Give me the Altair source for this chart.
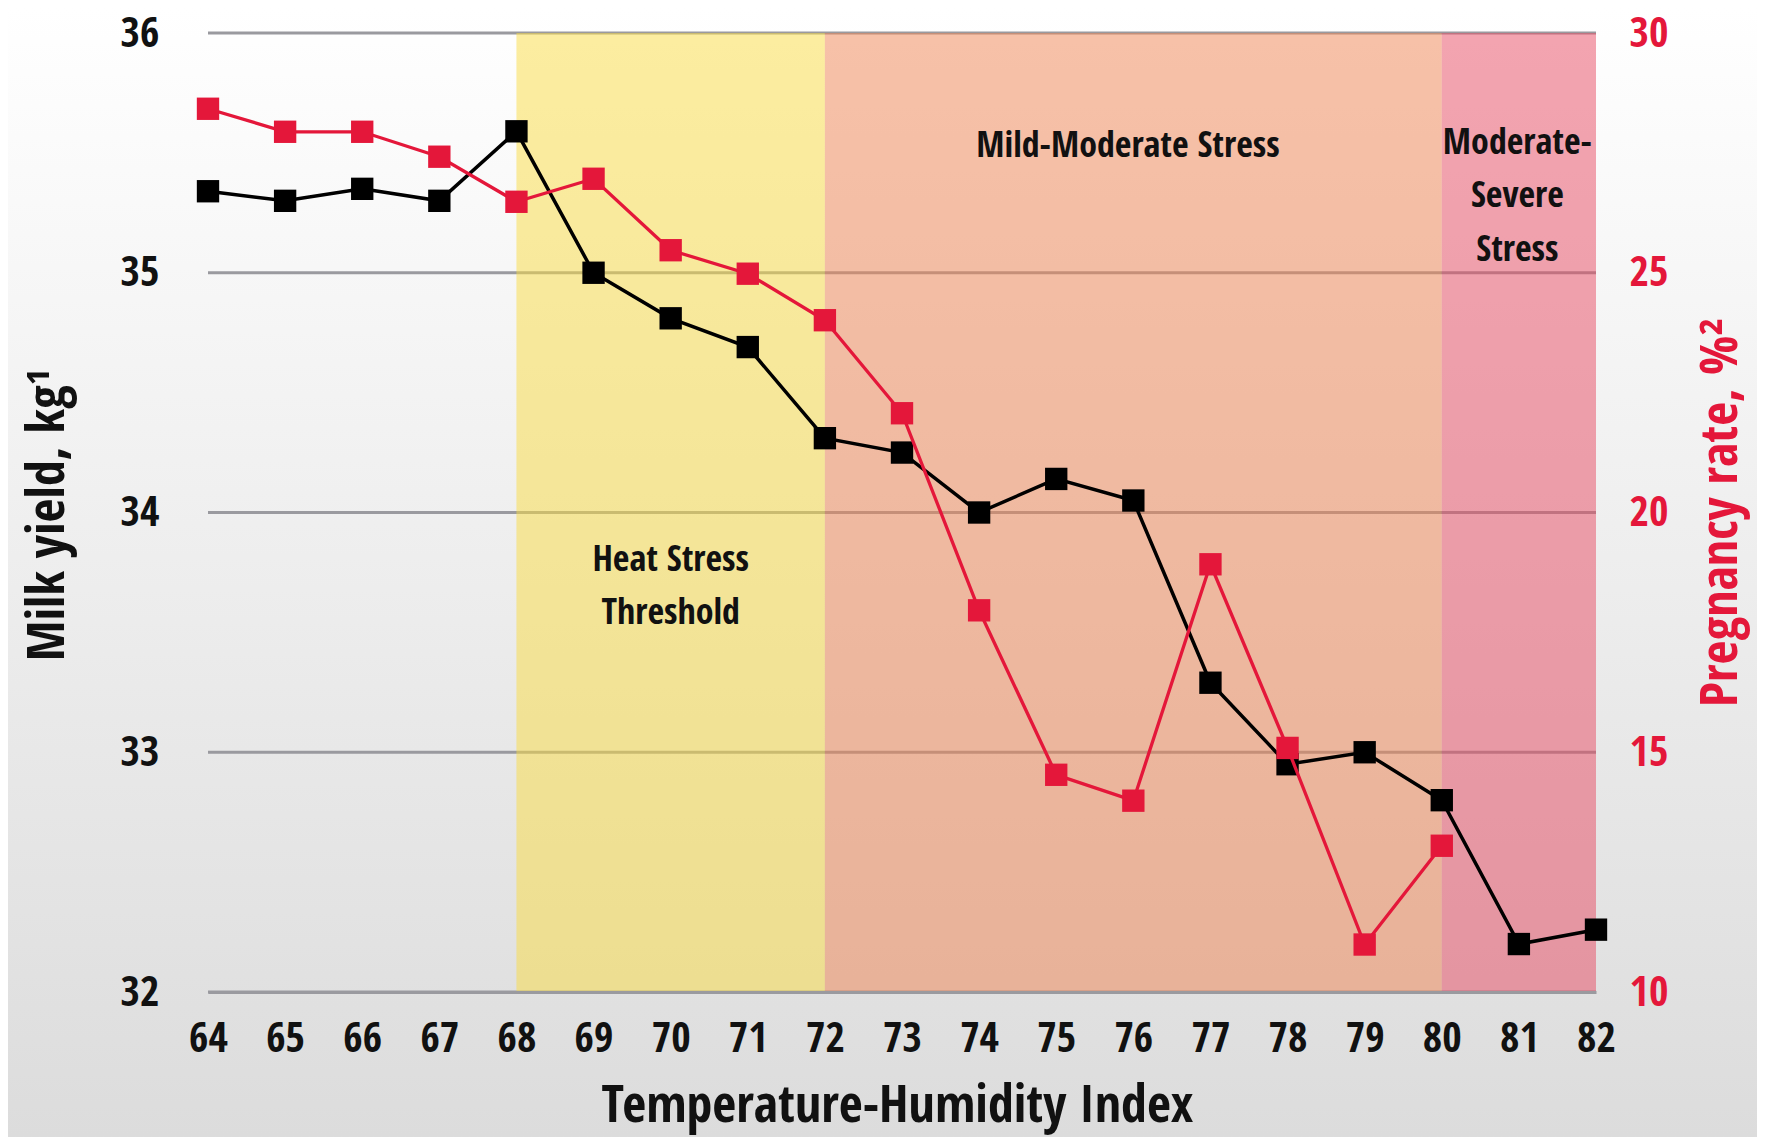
import altair as alt
import pandas as pd

# ---- data ----
thi = [64, 65, 66, 67, 68, 69, 70, 71, 72, 73, 74, 75, 76, 77, 78, 79, 80, 81, 82]
milk_yield = [35.34, 35.30, 35.35, 35.30, 35.59, 35.00, 34.81, 34.69, 34.31, 34.25,
              34.00, 34.14, 34.05, 33.29, 32.95, 33.00, 32.80, 32.20, 32.26]
thi_preg = [64, 65, 66, 67, 68, 69, 70, 71, 72, 73, 74, 75, 76, 77, 78, 79, 80]
pregnancy_rate = [28.42, 27.94, 27.94, 27.42, 26.48, 26.96, 25.47, 24.98, 24.01, 22.07,
                  17.96, 14.53, 13.99, 18.92, 15.09, 10.99, 13.05]

zone_names = ["Heat Stress Threshold", "Mild-Moderate Stress", "Moderate-Severe Stress"]
zone_start = [68, 72, 80]
zone_end = [72, 80, 82]
zone_colors = ["#F9DB41", "#EF8351", "#E84A62"]

note_text = ["Heat Stress", "Threshold", "Mild-Moderate Stress", "Moderate-", "Severe", "Stress"]
note_x = [70, 70, 75.93, 80.98, 80.98, 80.98]
note_y = [33.80, 33.58, 35.53, 35.54, 35.32, 35.095]

milk_ticks = [32, 33, 34, 35, 36]
preg_ticks = [10, 15, 20, 25, 30]
x_ticks = thi

# ---- style ----
FONT = "Open Sans Condensed, Roboto Condensed, DejaVu Sans Condensed, sans-serif"
RED = "#E4173A"
GRID = "#9a9a9f"
W, H = 1388, 959
PL, PT, PR, PB = 200, 25, 161, 145

df_milk = pd.DataFrame({"thi": thi, "milk": milk_yield})
df_preg = pd.DataFrame({"thi": thi_preg, "preg": pregnancy_rate})
df_zone = pd.DataFrame({"zone": zone_names, "start": zone_start, "end": zone_end})
df_note = pd.DataFrame({"t": note_text, "x": note_x, "y": note_y})
df_grid = pd.DataFrame({"v": milk_ticks})
df_one = pd.DataFrame({"a": [0]})

xscale = alt.Scale(domain=[64, 82], nice=False, zero=False)
yscale = alt.Scale(domain=[32, 36], nice=False, zero=False)
pscale = alt.Scale(domain=[10, 30], nice=False, zero=False)

x_axis = alt.Axis(
    values=x_ticks, format="d", ticks=False, tickSize=0, grid=False,
    domain=True, domainColor=GRID, domainWidth=3,
    labelFont=FONT, labelFontSize=42, labelFontWeight="bold", labelColor="#111111",
    labelPadding=26, labelOverlap=False, labelFlush=False,
    title="Temperature-Humidity Index", titleFont=FONT, titleFontSize=52,
    titleFontWeight="bold", titleColor="#111111", titleX=689, titleY=129,
    titleBaseline="alphabetic", titleAlign="center", zindex=2,
)

left_axis = alt.Axis(
    orient="left", values=milk_ticks, format="d", ticks=False, tickSize=0, grid=False,
    domain=False, labelFont=FONT, labelFontSize=42, labelFontWeight="bold",
    labelColor="#111111", labelPadding=49, labelFlush=False,
    title="Milk yield, kg\u00b9", titleFont=FONT, titleFontSize=52,
    titleFontWeight="bold", titleColor="#111111", titleAngle=270,
    titleX=-145, titleY=481, titleBaseline="alphabetic", titleAlign="center", zindex=2,
)

right_axis = alt.Axis(
    orient="right", values=preg_ticks, format="d", ticks=False, tickSize=0, grid=False,
    domain=False, labelFont=FONT, labelFontSize=42, labelFontWeight="bold",
    labelColor=RED, labelPadding=33, labelFlush=False,
    title="Pregnancy rate, %\u00b2", titleFont=FONT, titleFontSize=52,
    titleFontWeight="bold", titleColor=RED, titleAngle=270,
    titleX=140, titleY=479, titleBaseline="alphabetic", titleAlign="center", zindex=2,
)

bg = alt.Chart(df_one).mark_rect(
    fill=alt.LinearGradient(
        gradient="linear",
        stops=[alt.GradientStop(color="#ffffff", offset=0),
               alt.GradientStop(color="#dcdcdc", offset=1)],
        x1=0, x2=0, y1=0, y2=1,
    )
).encode(
    x=alt.value(-PL), x2=alt.value(W + PR), y=alt.value(-PT), y2=alt.value(H + PB)
)

grid = alt.Chart(df_grid).mark_rule(color=GRID, strokeWidth=3).encode(
    y=alt.Y("v:Q", scale=yscale, axis=left_axis)
)

bands = alt.Chart(df_zone).mark_rect(opacity=0.5).encode(
    x=alt.X("start:Q", scale=xscale, axis=x_axis),
    x2="end:Q",
    y=alt.value(0),
    y2=alt.value(H),
    color=alt.Color("zone:N", scale=alt.Scale(domain=zone_names, range=zone_colors), legend=None),
)

notes = alt.Chart(df_note).mark_text(
    font=FONT, fontSize=36, fontWeight="bold", color="#111111", baseline="middle", align="center"
).encode(
    x=alt.X("x:Q", scale=xscale, axis=x_axis),
    y=alt.Y("y:Q", scale=yscale, axis=left_axis),
    text="t:N",
)

milk_line = alt.Chart(df_milk).mark_line(color="#000000", strokeWidth=3.5).encode(
    x=alt.X("thi:Q", scale=xscale, axis=x_axis),
    y=alt.Y("milk:Q", scale=yscale, axis=left_axis),
)
milk_pts = alt.Chart(df_milk).mark_point(
    shape="square", filled=True, size=500, color="#000000", opacity=1
).encode(
    x=alt.X("thi:Q", scale=xscale, axis=x_axis),
    y=alt.Y("milk:Q", scale=yscale, axis=left_axis),
)

preg_line = alt.Chart(df_preg).mark_line(color=RED, strokeWidth=3.3).encode(
    x=alt.X("thi:Q", scale=xscale, axis=x_axis),
    y=alt.Y("preg:Q", scale=pscale, axis=right_axis),
)
preg_pts = alt.Chart(df_preg).mark_point(
    shape="square", filled=True, size=500, color=RED, opacity=1
).encode(
    x=alt.X("thi:Q", scale=xscale, axis=x_axis),
    y=alt.Y("preg:Q", scale=pscale, axis=right_axis),
)

milk_group = alt.layer(bg, grid, bands, notes, milk_line, milk_pts)
preg_group = alt.layer(preg_line, preg_pts)

chart = alt.layer(milk_group, preg_group).resolve_scale(y="independent").properties(
    width=W, height=H,
    padding={"left": PL, "top": PT, "right": PR, "bottom": PB},
    autosize=alt.AutoSizeParams(type="none"),
).configure_view(strokeWidth=0).configure_axis(zindex=2)

chart.save("out.html", embed_options={"renderer": "svg", "actions": False})
